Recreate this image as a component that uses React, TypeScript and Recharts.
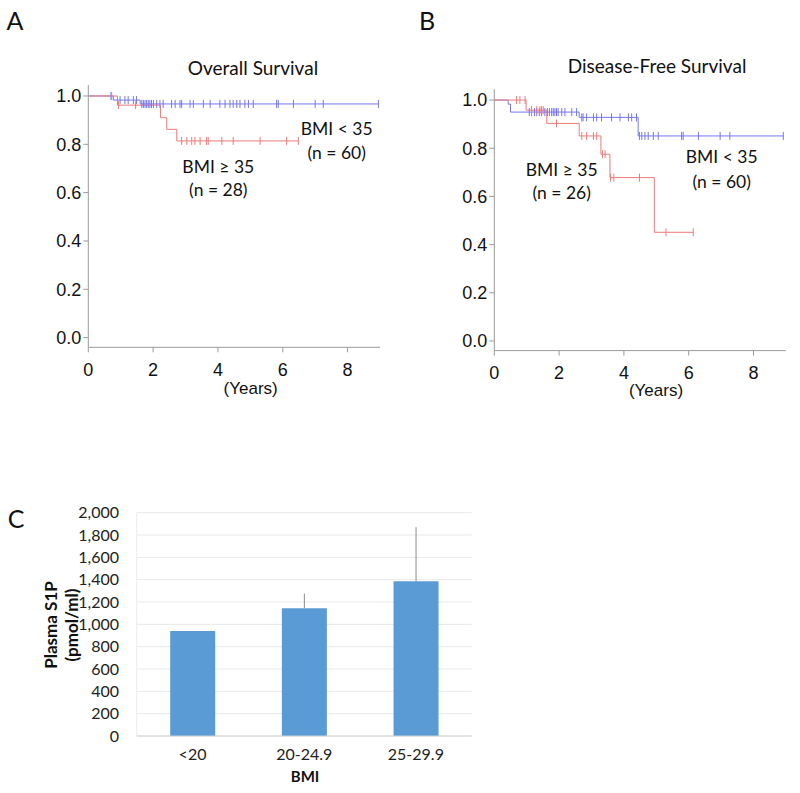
import React from "react";
import {
  ComposedChart,
  Line,
  Scatter,
  XAxis,
  YAxis,
  BarChart,
  Bar,
  ErrorBar,
  CartesianGrid,
} from "recharts";

const RED = "#f07a7a";
const BLUE = "#7676f0";
const AXIS = "#9a9a9a";

// Overall survival (panel A): step points {t: years, s: survival}
const osLowSteps = [
  { t: 0, s: 1 },
  { t: 0.77, s: 0.983 },
  { t: 1.6, s: 0.967 },
  { t: 8.95, s: 0.967 },
];
const osHighSteps = [
  { t: 0, s: 1 },
  { t: 0.9, s: 0.962 },
  { t: 2.23, s: 0.91 },
  { t: 2.42, s: 0.862 },
  { t: 2.73, s: 0.814 },
  { t: 6.48, s: 0.814 },
];
// censor marks, grouped by the level they sit on: [level, times]
const osLowCensor: [number, number[]][] = [
  [1.0, [0.7]],
  [0.983, [0.98, 1.13, 1.23, 1.39, 1.49]],
  [
    0.967,
    [
      1.65, 1.7, 1.75, 1.8, 1.85, 1.9, 1.95, 2.01, 2.11, 2.21, 2.31, 2.57, 2.68, 2.83, 2.88,
      3.14, 3.24, 3.55, 3.76, 4.06, 4.22, 4.37, 4.47, 4.58, 4.68, 4.83, 4.94, 5.09, 5.81,
      5.86, 6.33, 7.0, 7.25, 8.95,
    ],
  ],
];
const osHighCensor: [number, number[]][] = [
  [1.0, [0.72]],
  [0.962, [0.93, 1.46]],
  [0.814, [2.88, 3.04, 3.19, 3.29, 3.45, 3.65, 3.7, 4.12, 4.47, 5.3, 6.12, 6.48]],
];

// Disease-free survival (panel B)
const dfsLowSteps = [
  { t: 0, s: 1 },
  { t: 0.43, s: 0.983 },
  { t: 0.5, s: 0.95 },
  { t: 2.62, s: 0.928 },
  { t: 4.44, s: 0.851 },
  { t: 8.92, s: 0.851 },
];
const dfsHighSteps = [
  { t: 0, s: 1 },
  { t: 0.98, s: 0.958 },
  { t: 1.62, s: 0.903 },
  { t: 2.62, s: 0.851 },
  { t: 3.29, s: 0.775 },
  { t: 3.57, s: 0.678 },
  { t: 4.94, s: 0.451 },
  { t: 6.14, s: 0.451 },
];
const dfsLowCensor: [number, number[]][] = [
  [
    0.95,
    [1.08, 1.15, 1.24, 1.31, 1.39, 1.46, 1.56, 1.64, 1.7, 1.77, 1.82, 1.87, 1.92, 1.97, 2.08, 2.18, 2.39, 2.54],
  ],
  [0.928, [2.7, 2.74, 2.85, 3.06, 3.16, 3.31, 3.62, 3.88, 4.14, 4.24, 4.39]],
  [0.851, [4.48, 4.55, 4.65, 4.75, 4.91, 5.06, 5.78, 5.83, 6.3, 6.97, 7.27, 8.92]],
];
const dfsHighCensor: [number, number[]][] = [
  [1.0, [0.69, 0.79, 0.95]],
  [0.958, [1.15, 1.31, 1.41, 1.46, 1.51]],
  [0.903, [1.92]],
  [0.851, [2.7, 2.85, 3.06, 3.16]],
  [0.775, [3.34, 3.42]],
  [0.678, [3.59, 3.69, 4.48]],
  [0.451, [5.3, 6.14]],
];

const yearTicks = [0, 2, 4, 6, 8];
const survTicks = [0, 0.2, 0.4, 0.6, 0.8, 1.0];

// Panel C
const bmiCats = ["<20", "20-24.9", "25-29.9"];
const s1pMean = [940, 1145, 1385];
const s1pErr = [0, 130, 485];
const s1pTicks = [0, 200, 400, 600, 800, 1000, 1200, 1400, 1600, 1800, 2000];

const barData = bmiCats.map((c, i) => ({ bmi: c, mean: s1pMean[i], err: [0, s1pErr[i]] }));

const flatCensor = (groups: [number, number[]][]) =>
  groups.flatMap(([s, ts]) => ts.map((t) => ({ t, s })));

const tickMark = (color: string) => (p: any) =>
  <line x1={p.cx} x2={p.cx} y1={p.cy - 4} y2={p.cy + 4} stroke={color} strokeWidth={1} />;

function Txt({ x, y, size, children, bold, family = "Lato" }: any) {
  return (
    <div
      style={{
        position: "absolute",
        left: x,
        top: y,
        transform: "translate(-50%, -50%)",
        fontFamily: family,
        fontSize: size,
        fontWeight: bold ? 700 : 400,
        lineHeight: 1,
        whiteSpace: "nowrap",
        color: "#111",
      }}
    >
      {children}
    </div>
  );
}

function SurvivalPlot({ low, high, lowCensor, highCensor, margin }: any) {
  return (
    <ComposedChart width={400} height={400} margin={margin}>
      <XAxis
        type="number"
        dataKey="t"
        domain={[0, 9]}
        ticks={yearTicks}
        allowDataOverflow
        interval={0}
        height={40}
        stroke={AXIS}
        tickSize={5}
        tickMargin={11}
        tick={{ fill: "#111", fontSize: 18, fontFamily: "Liberation Sans" }}
      />
      <YAxis
        type="number"
        dataKey="s"
        domain={[-0.04, 1.045]}
        ticks={survTicks}
        allowDataOverflow
        interval={0}
        width={50}
        stroke={AXIS}
        tickSize={5}
        tickMargin={2}
        tickFormatter={(v: number) => v.toFixed(1)}
        tick={{ fill: "#111", fontSize: 18, fontFamily: "Liberation Sans" }}
      />
      <Line data={low} dataKey="s" type="stepAfter" stroke={BLUE} strokeWidth={1} dot={false} isAnimationActive={false} />
      <Line data={high} dataKey="s" type="stepAfter" stroke={RED} strokeWidth={1} dot={false} isAnimationActive={false} />
      <Scatter data={flatCensor(lowCensor)} dataKey="s" shape={tickMark(BLUE)} isAnimationActive={false} />
      <Scatter data={flatCensor(highCensor)} dataKey="s" shape={tickMark(RED)} isAnimationActive={false} />
    </ComposedChart>
  );
}

export default function App() {
  return (
    <div style={{ position: "absolute", left: 0, top: 0, width: 800, height: 793, background: "#fff" }}>
      {/* Panel A */}
      <div style={{ position: "absolute", left: 0, top: 0 }}>
        <SurvivalPlot
          low={osLowSteps}
          high={osHighSteps}
          lowCensor={osLowCensor}
          highCensor={osHighCensor}
          margin={{ top: 85.1, right: 20, left: 38.3, bottom: 12.7 }}
        />
      </div>
      {/* Panel B */}
      <div style={{ position: "absolute", left: 400, top: 0 }}>
        <SurvivalPlot
          low={dfsLowSteps}
          high={dfsHighSteps}
          lowCensor={dfsLowCensor}
          highCensor={dfsHighCensor}
          margin={{ top: 89.2, right: 14.1, left: 44.3, bottom: 9.4 }}
        />
      </div>
      {/* Panel C */}
      <div style={{ position: "absolute", left: 0, top: 480 }}>
        <BarChart
          width={500}
          height={313}
          data={barData}
          margin={{ top: 32.7, right: 28.3, left: 76.7, bottom: 27 }}
          barCategoryGap="30%"
        >
          <CartesianGrid vertical={false} stroke="#e8e8e8" />
          <XAxis
            dataKey="bmi"
            height={30}
            interval={0}
            stroke="#d2d2d2"
            tickLine={false}
            tickSize={0}
            tickMargin={13}
            tick={{ fill: "#222", fontSize: 16, fontFamily: "Lato" }}
          />
          <YAxis
            domain={[0, 2000]}
            ticks={s1pTicks}
            interval={0}
            width={60}
            stroke="#ececec"
            tickLine={false}
            tickSize={0}
            tickMargin={17.7}
            tickFormatter={(v: number) => v.toLocaleString("en-US")}
            tick={{ fill: "#222", fontSize: 16, fontFamily: "Lato" }}
          />
          <Bar dataKey="mean" fill="#5b9bd5" isAnimationActive={false}>
            <ErrorBar dataKey="err" direction="y" width={0} stroke="#8c8c8c" strokeWidth={1} />
          </Bar>
        </BarChart>
      </div>

      {/* text */}
      <Txt x={15} y={20} size={25}>A</Txt>
      <Txt x={427} y={20} size={25}>B</Txt>
      <Txt x={16} y={518} size={25}>C</Txt>
      <Txt x={253} y={67} size={19}>Overall Survival</Txt>
      <Txt x={657} y={65} size={19}>Disease-Free Survival</Txt>
      <Txt x={336.7} y={129.3} size={17.5}>BMI &lt; 35</Txt>
      <Txt x={336.7} y={152.7} size={17.5}>(n = 60)</Txt>
      <Txt x={218.3} y={167.3} size={17.5}>BMI ≥ 35</Txt>
      <Txt x={218.3} y={190} size={17.5}>(n = 28)</Txt>
      <Txt x={721.7} y={156.7} size={17.5}>BMI &lt; 35</Txt>
      <Txt x={721.7} y={181.7} size={17.5}>(n = 60)</Txt>
      <Txt x={561.7} y={170} size={17.5}>BMI ≥ 35</Txt>
      <Txt x={561.7} y={192.7} size={17.5}>(n = 26)</Txt>
      <Txt x={250.7} y={388} size={17} family="Liberation Sans">(Years)</Txt>
      <Txt x={656} y={390} size={17} family="Liberation Sans">(Years)</Txt>
      <div
        style={{
          position: "absolute",
          left: 61,
          top: 625,
          transform: "translate(-50%, -50%) rotate(-90deg)",
          fontFamily: "Lato",
          fontWeight: 700,
          fontSize: 17,
          lineHeight: "21px",
          textAlign: "center",
          whiteSpace: "nowrap",
          color: "#111",
        }}
      >
        Plasma S1P
        <br />
        (pmol/ml)
      </div>
      <Txt x={305} y={776} size={15} bold>BMI</Txt>
    </div>
  );
}
